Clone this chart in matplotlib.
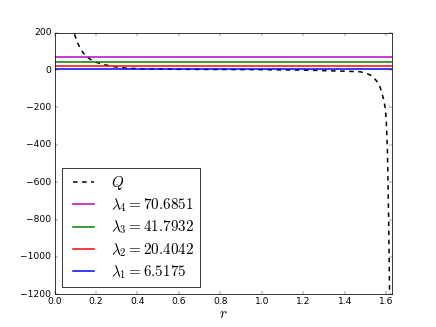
#!/usr/bin/env python3
"""Potential Q(r) with the first four eigenvalue levels."""
import matplotlib
matplotlib.use("Agg")
import matplotlib.pyplot as plt

# Q(r)
r_q = [0.090, 0.097, 0.110, 0.123, 0.137, 0.157, 0.177, 0.200, 0.220, 0.257,
       0.300, 0.350, 0.400, 0.450, 0.600, 0.800, 1.000, 1.200, 1.300, 1.400,
       1.474, 1.500, 1.531, 1.555, 1.571, 1.587, 1.595, 1.600, 1.606, 1.612,
       1.617]
q_vals = [240, 190, 150, 118, 94, 70, 54, 42, 35, 25,
          16, 10, 8, 6, 4, 3, 2, 0, -3, -6,
          -9, -16, -30, -60, -92, -154, -200, -260, -430, -800,
          -1250]

lam_names = ["4", "3", "2", "1"]
lam_vals = [70.6851, 41.7932, 20.4042, 6.5175]
lam_colors = ["m", "g", "r", "b"]

r_max = 1.63
r_span = [0.0, r_max]

plt.style.use("classic")
plt.rcParams["mathtext.fontset"] = "cm"

fig, ax = plt.subplots(figsize=(8, 6))
ax.plot(r_q, q_vals, "k--", lw=2, label=r"$Q$")
for name, val, col in zip(lam_names, lam_vals, lam_colors):
    ax.plot(r_span, [val, val], color=col, lw=2,
            label=r"$\lambda_{%s}=%s$" % (name, val))

ax.set_xlim(0, r_max)
ax.set_ylim(-1200, 200)
ax.set_xlabel(r"$r$", fontsize=20, labelpad=0)
ax.legend(loc="lower left", fontsize=20, labelspacing=0.3)

fig.savefig("out.png", dpi=54.5, facecolor="white")
